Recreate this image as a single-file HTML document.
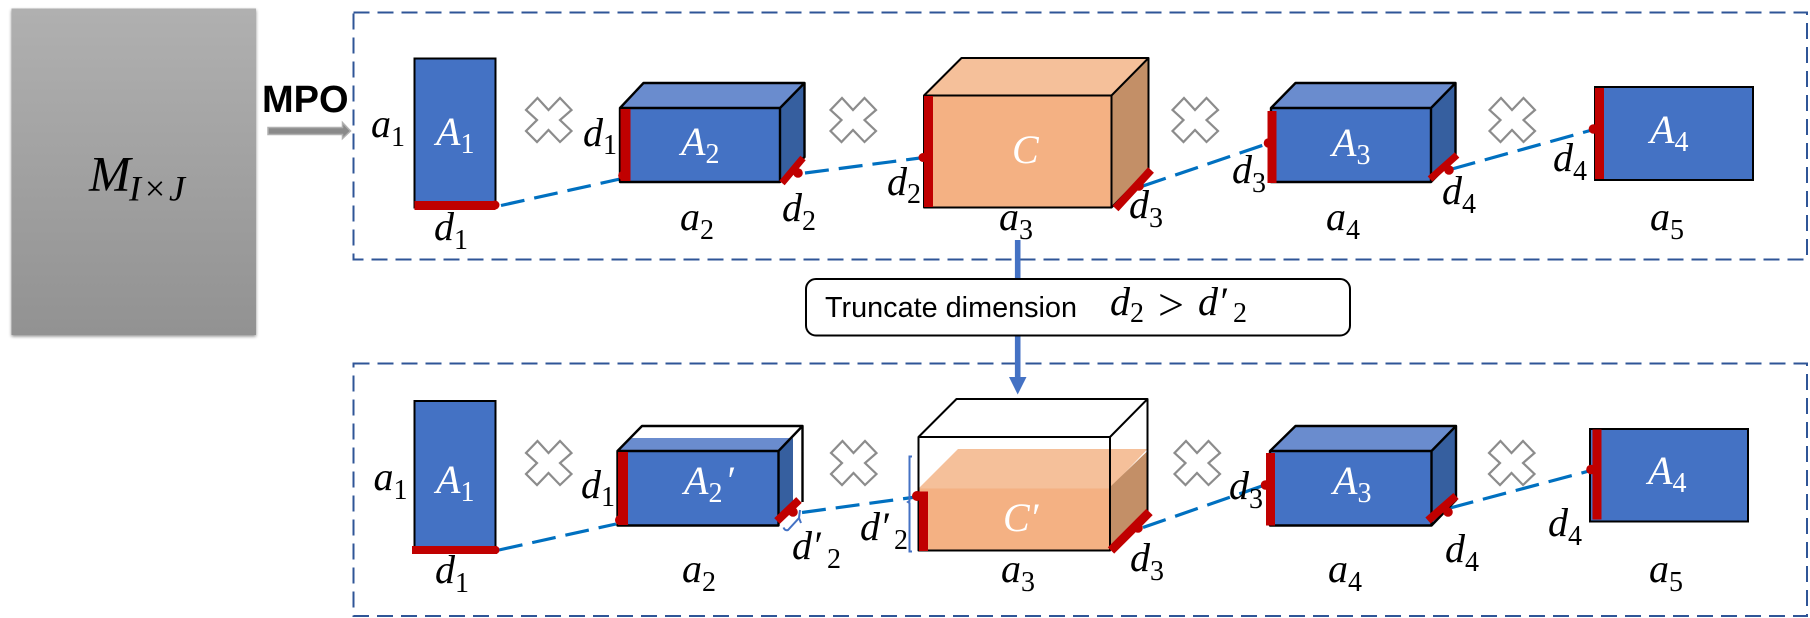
<!DOCTYPE html>
<html>
<head>
<meta charset="utf-8">
<style>
html,body{margin:0;padding:0;background:#fff;width:1810px;height:618px;overflow:hidden}
svg{display:block}
.m{font-family:"Liberation Serif",serif;font-style:italic;font-size:40px;fill:#000}
.w{fill:#fff}
.s{font-style:normal;font-size:28px}
.box{fill:none;stroke:#2f5597;stroke-width:2;stroke-dasharray:16 8}
.dl{stroke:#0070c0;stroke-width:3.2;stroke-dasharray:24 10;fill:none}
.k{stroke:#000;stroke-width:2.4;fill:none;stroke-linejoin:round}
.red{fill:#c00000}
.rl{stroke:#c00000;fill:none;stroke-linecap:butt}
.x{fill:#fff;stroke:#8c8c8c;stroke-width:2.2}
</style>
</head>
<body>
<svg width="1810" height="618" viewBox="0 0 1810 618" xmlns="http://www.w3.org/2000/svg">
<defs>
<linearGradient id="g" x1="0" y1="0" x2="0" y2="1"><stop offset="0" stop-color="#b0b0b0"/><stop offset="1" stop-color="#929292"/></linearGradient>
<filter id="sh" x="-5%" y="-5%" width="110%" height="110%"><feDropShadow dx="0" dy="1.5" stdDeviation="1.5" flood-color="#000" flood-opacity=".45"/></filter>
<polygon id="X" points="-11,-22 0,-10 11.5,-22 23,-10 11.5,0 23,11 11.5,22 0,10 -11.5,22 -22.5,11 -11.5,0 -22.5,-10"/>
</defs>

<!-- Left matrix -->
<rect x="11.5" y="8.5" width="244.5" height="326.5" fill="url(#g)" filter="url(#sh)"/>
<text class="m" x="89" y="190.5" style="font-size:50px">M</text>
<text class="m" x="129" y="200.5" style="font-size:36px" textLength="56" lengthAdjust="spacing">I<tspan style="font-style:normal">×</tspan>J</text>
<text x="262" y="112" style="font-family:'Liberation Sans',sans-serif;font-weight:bold;font-size:38px">MPO</text>
<polygon points="268,127.5 342.5,127.5 342.5,122.5 350.5,131 342.5,138.5 342.5,134.5 268,134.5" fill="#8a8a8a" stroke="#b0b0b0" stroke-width="1.5"/>

<!-- Dashed frames -->
<rect class="box" x="353.5" y="12.5" width="1453.5" height="247"/>
<rect class="box" x="353.5" y="363.5" width="1453.5" height="252.5"/>

<!-- Top row connectors -->
<line class="dl" x1="501" y1="205.5" x2="620" y2="179"/>
<line class="dl" x1="805" y1="173" x2="924" y2="157.5"/>
<line class="dl" x1="1143" y1="186" x2="1268" y2="143.5"/>
<line class="dl" x1="1452" y1="169" x2="1592" y2="130"/>

<!-- A1 top -->
<rect x="414.5" y="58.5" width="81" height="149" fill="#4472c4" stroke="#000" stroke-width="2"/>
<rect class="red" x="414.5" y="201" width="81" height="9"/>
<circle class="red" cx="495" cy="205" r="4.5"/>

<!-- A2 top -->
<polygon points="643.5,83 804.5,83 780,108 620,108" fill="#6a8cce"/>
<polygon points="780,108 804.5,83 804.5,157 780,182" fill="#365f9f"/>
<rect x="620" y="108" width="160" height="74" fill="#4472c4"/>
<path class="k" d="M620,108L643.5,83H804.5V157L780,182H620ZM620,108H780V182M780,108L804.5,83"/>
<rect class="red" x="620.5" y="109" width="10" height="72"/>
<circle class="red" cx="623" cy="175.5" r="4.8"/>
<line class="rl" stroke-width="7" x1="782" y1="183" x2="803" y2="158"/>
<circle class="red" cx="798" cy="173" r="4.8"/>

<!-- C top -->
<polygon points="961.5,58 1148.5,58 1111.5,95.5 924,95.5" fill="#f5c09a"/>
<polygon points="1111.5,95.5 1148.5,58 1148.5,170 1111.5,207" fill="#c38f67"/>
<rect x="924" y="95.5" width="187.5" height="112" fill="#f4b183"/>
<path class="k" d="M924,95.5L961.5,58H1148.5V170L1111.5,207.5H924ZM924,95.5H1111.5V207.5M1111.5,95.5L1148.5,58" style="stroke-width:2"/>
<rect class="red" x="924" y="96" width="9" height="111"/>
<circle class="red" cx="923" cy="157.5" r="4.5"/>
<line class="rl" stroke-width="8" x1="1115.5" y1="208.5" x2="1151" y2="170"/>
<circle class="red" cx="1139" cy="186" r="4.8"/>

<!-- A3 top -->
<polygon points="1295.5,83 1455.5,83 1431,108 1271,108" fill="#6a8cce"/>
<polygon points="1431,108 1455.5,83 1455.5,157 1431,182" fill="#365f9f"/>
<rect x="1271" y="108" width="160" height="74" fill="#4472c4"/>
<path class="k" d="M1271,108L1295.5,83H1455.5V157L1431,182H1271ZM1271,108H1431V182M1431,108L1455.5,83"/>
<rect class="red" x="1267.5" y="111" width="9" height="72"/>
<circle class="red" cx="1268.5" cy="143" r="4.8"/>
<line class="rl" stroke-width="7" x1="1430" y1="179" x2="1457" y2="155"/>
<circle class="red" cx="1449" cy="170" r="4.8"/>

<!-- A4 top -->
<rect x="1595" y="87" width="158" height="93" fill="#4472c4" stroke="#000" stroke-width="2"/>
<rect class="red" x="1595" y="88" width="9" height="91"/>
<circle class="red" cx="1593.5" cy="129" r="4.8"/>

<!-- Top Xs -->
<use href="#X" class="x" x="548.5" y="120"/>
<use href="#X" class="x" x="853" y="120"/>
<use href="#X" class="x" x="1195" y="120"/>
<use href="#X" class="x" x="1512" y="120"/>

<!-- Top labels -->
<text class="m" x="371" y="137">a<tspan class="s" dy="9">1</tspan></text>
<text class="m w" x="436" y="145">A<tspan class="s" dy="8">1</tspan></text>
<text class="m" x="583" y="146">d<tspan class="s" dy="8">1</tspan></text>
<text class="m w" x="681" y="155">A<tspan class="s" dy="8">2</tspan></text>
<text class="m" x="680" y="230">a<tspan class="s" dy="9">2</tspan></text>
<text class="m" x="782" y="221">d<tspan class="s" dy="9">2</tspan></text>
<text class="m" x="434" y="240">d<tspan class="s" dy="9">1</tspan></text>
<text class="m" x="887" y="195">d<tspan class="s" dy="8">2</tspan></text>
<text class="m w" x="1012" y="163">C</text>
<text class="m" x="999" y="230">a<tspan class="s" dy="9">3</tspan></text>
<text class="m" x="1129" y="218">d<tspan class="s" dy="9">3</tspan></text>
<text class="m" x="1232" y="183">d<tspan class="s" dy="9">3</tspan></text>
<text class="m w" x="1332" y="156">A<tspan class="s" dy="8">3</tspan></text>
<text class="m" x="1442" y="204">d<tspan class="s" dy="9">4</tspan></text>
<text class="m" x="1326" y="230">a<tspan class="s" dy="9">4</tspan></text>
<text class="m" x="1553" y="171">d<tspan class="s" dy="9">4</tspan></text>
<text class="m w" x="1650" y="143">A<tspan class="s" dy="8">4</tspan></text>
<text class="m" x="1650" y="230">a<tspan class="s" dy="9">5</tspan></text>

<!-- Truncate box -->
<line x1="1017.7" y1="240" x2="1017.7" y2="280" stroke="#4472c4" stroke-width="5.6"/>
<line x1="1017.7" y1="335" x2="1017.7" y2="378" stroke="#4472c4" stroke-width="5.6"/>
<polygon points="1009,377 1026.5,377 1017.7,394.5" fill="#4472c4"/>
<rect x="806" y="279" width="544" height="56.5" rx="10" fill="#fff" stroke="#000" stroke-width="2"/>
<text x="825" y="317" style="font-family:'Liberation Sans',sans-serif;font-size:28.5px" textLength="252" lengthAdjust="spacingAndGlyphs">Truncate dimension</text>
<text class="m" x="1110" y="315">d<tspan class="s" dy="7">2</tspan></text>
<text x="1158" y="320" style="font-family:'Liberation Serif',serif;font-size:46px">&gt;</text>
<text class="m" x="1198" y="315">d′<tspan class="s" x="1233" dy="7">2</tspan></text>

<!-- Bottom row connectors -->
<line class="dl" x1="499" y1="550" x2="616" y2="524"/>
<line class="dl" x1="802" y1="512.5" x2="916" y2="497"/>
<line class="dl" x1="1143" y1="527.5" x2="1265" y2="485"/>
<line class="dl" x1="1450" y1="508" x2="1589" y2="471"/>

<!-- A1 bottom -->
<rect x="414.5" y="401" width="81" height="150" fill="#4472c4" stroke="#000" stroke-width="2"/>
<rect class="red" x="412" y="546" width="85" height="8"/>
<circle class="red" cx="495.5" cy="550" r="4"/>

<!-- A2' bottom -->
<polygon points="642,426 802.5,426 802.5,500 778.5,525 617.5,525 617.5,451" fill="#fff"/>
<polygon points="632,438 793,438 778.5,451 618,451" fill="#6a8cce"/>
<polygon points="778.5,451 793,438 793,504 778.5,525" fill="#365f9f"/>
<rect x="617.5" y="451" width="161" height="74.5" fill="#4472c4"/>
<path class="k" d="M617.5,451L642,426H802.5V502M617.5,451H778.5V525.5H617.5ZM778.5,451L802.5,426"/>
<rect class="red" x="618" y="452" width="10" height="73"/>
<circle class="red" cx="620" cy="520" r="5"/>
<line class="rl" stroke-width="8" x1="777" y1="521" x2="799" y2="500"/>
<circle class="red" cx="793" cy="512" r="4.8"/>
<path d="M783.5,527.5Q785,531 788,530L799,518L800,510M799,518L801,523" fill="none" stroke="#4472c4" stroke-width="2"/>

<!-- C' bottom -->
<polygon points="918.5,488.5 958,449 1147.5,449 1110,488.5" fill="#f5c09a"/>
<polygon points="1110,487 1147.5,451 1147.5,510 1110,550" fill="#c38f67"/>
<rect x="918.5" y="488.5" width="191.5" height="62" fill="#f4b183"/>
<path class="k" d="M918.5,437L956.5,399H1147.5V512M918.5,437H1110V550.5H918.5ZM1110,437L1147.5,399" style="stroke-width:2"/>
<rect class="red" x="919" y="491.5" width="9" height="59.5"/>
<circle class="red" cx="917" cy="496" r="5"/>
<line class="rl" stroke-width="9" x1="1111" y1="550.5" x2="1149.5" y2="512"/>
<circle class="red" cx="1138" cy="528" r="4.8"/>
<path d="M912,456.5H909.5V501L908,502L909.5,503V551.5H912" fill="none" stroke="#4472c4" stroke-width="2"/>

<!-- A3 bottom -->
<polygon points="1295.5,426 1456,426 1431.5,451 1270,451" fill="#6a8cce"/>
<polygon points="1431.5,451 1456,426 1456,500 1431.5,525" fill="#365f9f"/>
<rect x="1270" y="451" width="161.5" height="74.5" fill="#4472c4"/>
<path class="k" d="M1270,451L1295.5,426H1456V500L1431.5,525.5H1270ZM1270,451H1431.5V525.5M1431.5,451L1456,426"/>
<rect class="red" x="1266" y="453" width="9" height="72.5"/>
<circle class="red" cx="1265.5" cy="485" r="4.8"/>
<line class="rl" stroke-width="8" x1="1428" y1="520.5" x2="1456" y2="496"/>
<circle class="red" cx="1448" cy="512" r="4.8"/>

<!-- A4 bottom -->
<rect x="1590" y="429" width="158" height="92.5" fill="#4472c4" stroke="#000" stroke-width="2"/>
<rect class="red" x="1592.5" y="429.5" width="9" height="90"/>
<circle class="red" cx="1591" cy="469.5" r="4.8"/>

<!-- Bottom Xs -->
<use href="#X" class="x" x="548.5" y="463"/>
<use href="#X" class="x" x="853.5" y="463"/>
<use href="#X" class="x" x="1197" y="463"/>
<use href="#X" class="x" x="1511.5" y="463"/>

<!-- Bottom labels -->
<text class="m" x="373.5" y="490">a<tspan class="s" dy="9">1</tspan></text>
<text class="m w" x="436" y="493">A<tspan class="s" dy="8">1</tspan></text>
<text class="m" x="581" y="498">d<tspan class="s" dy="8">1</tspan></text>
<text class="m" x="435" y="583">d<tspan class="s" dy="9">1</tspan></text>
<text class="m w" x="684" y="494">A<tspan class="s" dy="8">2</tspan><tspan class="w" x="725" dy="-8">′</tspan></text>
<text class="m" x="682" y="582">a<tspan class="s" dy="9">2</tspan></text>
<text class="m" x="792" y="559">d′<tspan class="s" x="827" dy="9">2</tspan></text>
<text class="m" x="860" y="540">d′<tspan class="s" x="894" dy="9">2</tspan></text>
<text class="m w" x="1003" y="531">C′</text>
<text class="m" x="1001" y="582">a<tspan class="s" dy="9">3</tspan></text>
<text class="m" x="1130" y="571">d<tspan class="s" dy="9">3</tspan></text>
<text class="m" x="1229" y="499">d<tspan class="s" dy="9">3</tspan></text>
<text class="m w" x="1333" y="494">A<tspan class="s" dy="8">3</tspan></text>
<text class="m" x="1445" y="562">d<tspan class="s" dy="9">4</tspan></text>
<text class="m" x="1328" y="582">a<tspan class="s" dy="9">4</tspan></text>
<text class="m" x="1548" y="536">d<tspan class="s" dy="9">4</tspan></text>
<text class="m w" x="1648" y="484">A<tspan class="s" dy="8">4</tspan></text>
<text class="m" x="1649" y="582">a<tspan class="s" dy="9">5</tspan></text>
</svg>
</body>
</html>
